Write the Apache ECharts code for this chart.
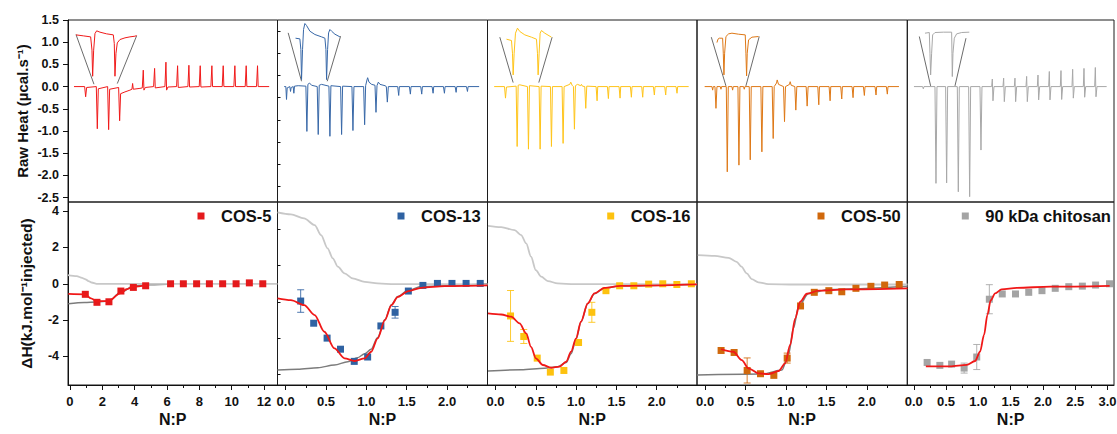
<!DOCTYPE html>
<html><head><meta charset="utf-8">
<script src="https://cdn.jsdelivr.net/npm/echarts@6/dist/echarts.min.js"></script>
<style>html,body{margin:0;padding:0;background:#fff}#c{width:1117px;height:434px}</style>
</head><body><div id="c"></div>
<script>
// ---------- TOP ROW: raw thermograms [time (a.u.), raw heat µcal/s] ----------
const heatCOS5 = [[222,0],[254,0],[257,-0.23],[260,-0.02],[289,0],[292,-0.95],[295,-0.05],[323,0],[326,-0.97],[329,-0.06],[356,-0.02],[359,-0.77],[362,-0.16],[375,-0.12],[390,-0.08],[396,-0.06],[398,0.07],[400,-0.06],[420,-0.04],[427,-0.03],[430,0.37],[432,-0.08],[436,-0.02],[461,0],[464,0.41],[466,-0.03],[495,0],[498,0.55],[500,-0.08],[504,-0.01],[530,0],[533,0.47],[535,-0.02],[564,0],[567,0.48],[569,-0.01],[598,0],[601,0.47],[603,-0.01],[633,0],[636,0.47],[638,0],[667,0],[670,0.47],[672,0],[702,0],[705,0.47],[707,0],[736,0],[739,0.47],[741,0],[770,0],[773,0.47],[775,0],[808,0]];
const heatCOS13 = [[28,0],[33,0],[35,-0.29],[37,-0.03],[45,0],[47,-0.11],[49,-0.02],[55,0],[57,-0.15],[59,0.01],[70,0.02],[93,0.01],[96,-1.01],[99,0.05],[104,0.08],[110,0.03],[127,0],[130,-1.08],[133,0.03],[140,0.05],[162,0.01],[165,-1.12],[168,0.02],[197,0],[200,-1.08],[203,0.01],[231,0],[234,-0.99],[237,0],[266,0],[269,-0.86],[272,0.02],[276,0.15],[278,0.2],[282,0.1],[290,0.05],[300,0.03],[303,-0.58],[306,0.02],[310,0.1],[315,0.05],[330,0.02],[334,0],[337,-0.35],[340,0],[368,0],[371,-0.2],[373,0],[403,0],[406,-0.17],[408,0],[437,0],[440,-0.17],[442,0],[471,0],[474,-0.15],[476,0],[505,0],[508,-0.15],[510,0],[540,0],[543,-0.13],[545,0],[574,0],[577,-0.11],[579,0],[612,0]];
const heatCOS16 = [[28,0],[59,0],[62,-0.26],[65,-0.01],[94,0.01],[97,-1.35],[100,0.03],[105,0.04],[128,0],[131,-1.41],[134,0.02],[163,0],[166,-1.41],[169,0.01],[197,0],[200,-1.35],[203,0],[232,0],[235,-1.28],[238,0],[255,0.05],[258,0.1],[262,0.03],[266,0],[269,-0.96],[272,0.02],[278,0.05],[288,0.02],[290,0.05],[293,0.01],[300,0],[303,-0.49],[306,0.01],[334,0],[337,-0.32],[339,0],[368,0],[371,-0.27],[373,0],[403,0],[406,-0.26],[408,0],[437,0],[440,-0.24],[442,0],[471,0],[474,-0.24],[476,0],[506,0],[509,-0.19],[511,0],[540,0],[543,-0.19],[545,0],[574,0],[577,-0.15],[579,0],[612,0]];
const heatCOS50 = [[28,0],[50,0],[52,-0.08],[54,0],[59,0],[62,-0.49],[65,0],[75,0],[77,-0.06],[79,0],[93,0],[96,-1.92],[99,0],[110,0],[112,-0.08],[114,0],[128,0],[131,-1.77],[134,0],[145,0],[147,-0.06],[149,0],[162,0],[165,-1.65],[168,0],[197,0],[200,-1.47],[203,0],[231,0],[234,-1.17],[237,0],[244,0.08],[246,0.15],[250,0.05],[265,0],[268,-0.79],[271,0],[283,0.05],[285,0.11],[288,0.03],[299,0],[302,-0.53],[305,0],[333,0],[336,-0.44],[339,0],[368,0],[371,-0.41],[373,0],[402,0],[405,-0.32],[407,0],[437,0],[440,-0.28],[442,0],[471,0],[474,-0.25],[476,0],[505,0],[508,-0.2],[510,0],[540,0],[543,-0.19],[545,0],[574,0],[577,-0.17],[579,0],[612,0]];
const heatChit = [[42,0],[68,0],[70,-0.05],[72,0],[105,0],[108,-2.18],[111,0],[137,0],[140,-2.17],[143,0],[172,0],[175,-2.37],[178,0],[206,0],[209,-2.48],[212,0],[240,0],[243,-1.43],[246,0],[275,0],[277,0.17],[279,-0.32],[282,0],[309,0],[311,0.19],[313,-0.34],[316,0],[343,0],[345,0.19],[347,-0.34],[350,0],[378,0],[380,0.23],[382,-0.34],[385,0],[412,0],[414,0.26],[416,-0.30],[419,0],[446,0],[448,0.34],[450,-0.30],[453,0],[481,0],[483,0.36],[485,-0.29],[488,0],[516,0],[518,0.39],[520,-0.26],[523,0],[550,0],[552,0.41],[554,-0.24],[557,0],[584,0],[586,0.43],[588,-0.23],[591,0],[620,0]];

// magnified insets of the first injections
const insetCOS5 = [[228,1.165],[250,1.143],[272,1.12],[276,0.82],[278,0.233],[281,0.82],[285,1.195],[290,1.256],[300,1.226],[320,1.188],[340,1.165],[343,0.97],[345,0.233],[348,0.75],[352,0.985],[360,1.06],[375,1.098],[390,1.12],[405,1.135],[410,1.15]];
const insetCOS13 = [[62,1.09],[75,1.075],[78,0.835],[80,0.158],[83,0.835],[86,1.286],[90,1.421],[95,1.376],[105,1.248],[120,1.173],[140,1.12],[150,1.09],[153,0.835],[155,0.158],[158,0.835],[161,1.21],[165,1.286],[170,1.248],[180,1.18],[195,1.12]];
const insetCOS16 = [[65,1.068],[80,1.038],[83,0.752],[85,0.263],[88,0.752],[92,1.203],[98,1.316],[105,1.241],[120,1.165],[140,1.113],[155,1.068],[158,0.752],[160,0.263],[163,0.752],[166,1.203],[170,1.263],[180,1.203],[200,1.113]];
const insetCOS50 = [[65,0.992],[68,1.068],[72,1.09],[82,1.09],[84,0.752],[86,0.263],[88,0.752],[92,1.128],[100,1.188],[110,1.203],[130,1.18],[150,1.165],[152,0.752],[154,0.241],[156,0.752],[160,1.053],[170,1.113],[190,1.128]];
const insetChit = [[75,1.203],[88,1.218],[90,0.752],[92,0.263],[95,0.752],[98,1.165],[105,1.218],[130,1.226],[155,1.226],[156,0.752],[157,0.226],[159,0.752],[163,1.09],[170,1.188],[185,1.218],[208,1.226]];
const linkCOS5 = [[[228,1.173],[282,0.053]],[[410,1.143],[352,0.068]]];
const linkCOS13 = [[[40,1.21],[80,0.12]],[[197,1.135],[157,0.12]]];
const linkCOS16 = [[[45,1.113],[85,0.09]],[[202,1.113],[162,0.09]]];
const linkCOS50 = [[[48,1.113],[92,0.015]],[[192,1.128],[152,0.015]]];
const linkChit = [[[58,1.128],[92,0.015]],[[198,1.09],[165,0.015]]];

// ---------- BOTTOM ROW: integrated heats ----------
const names = ['COS-5','COS-13','COS-16','COS-50','90 kDa chitosan'];
const npCOS5 = [0.95,1.67,2.41,3.15,3.92,4.68,6.22,7.01,7.83,8.62,9.44,10.27,11.09,11.92];
const dhCOS5 = [-0.58,-1.02,-0.99,-0.40,-0.20,-0.11,0,0,0,0,0,0,0.05,0];
const npCOS13 = [0.187,0.348,0.514,0.68,0.85,1.016,1.18,1.356,1.52,1.70,1.88,2.06,2.235,2.41];
const dhCOS13 = [-0.95,-2.17,-2.99,-3.60,-4.27,-4.03,-2.32,-1.57,-0.40,-0.09,0.02,0.02,0.02,0.02];
const npCOS16 = [0.186,0.35,0.517,0.68,0.848,1.03,1.195,1.37,1.54,1.716,1.90,2.075,2.25,2.43];
const dhCOS16 = [-1.77,-2.90,-4.09,-4.86,-4.77,-3.23,-1.57,-0.38,-0.11,-0.11,-0.02,0,-0.04,0];
const npCOS50 = [0.198,0.359,0.52,0.685,0.85,1.015,1.18,1.35,1.53,1.69,1.865,2.05,2.22,2.40];
const dhCOS50 = [-3.67,-3.78,-4.77,-4.95,-5.04,-4.09,-1.22,-0.47,-0.38,-0.44,-0.25,-0.14,-0.07,-0.04];
const npChit = [0.207,0.404,0.586,0.78,0.975,1.17,1.37,1.575,1.78,1.985,2.19,2.40,2.61,2.815,3.03];
const dhChit = [-4.33,-4.49,-4.42,-4.64,-4.03,-0.85,-0.56,-0.56,-0.47,-0.38,-0.25,-0.16,-0.13,-0.07,0];
// error bars [N:P, ΔH, sd]
const errCOS13 = [[0.187,-0.95,0.62],[1.356,-1.57,0.32]];
const errCOS16 = [[0.186,-1.77,1.40],[0.35,-2.90,0.385],[1.195,-1.57,0.55]];
const errCOS50 = [[0.52,-4.77,0.69],[1.015,-4.09,0.275]];
const errChit = [[0.78,-4.64,0.275],[0.975,-4.03,0.69],[1.17,-0.85,0.80]];
// fitted curves (red) and site components (light / dark grey)
const fitCOS5 = [[-0.1,-0.56],[0.93,-0.58],[1.3,-0.8],[1.65,-0.95],[2.41,-0.95],[3.09,-0.53],[3.5,-0.3],[3.92,-0.16],[4.74,-0.07]];
const siteACOS5 = [[-0.12,0.48],[0.42,0.42],[0.75,0.32],[0.93,0.26],[1.15,0.15],[1.34,0.07],[1.65,0],[12.83,0]];
const siteBCOS5 = [[-0.1,-1.1],[0.9,-1.03],[1.65,-1.0],[2.4,-0.95],[3.1,-0.5],[3.9,-0.14],[4.7,-0.05],[6.0,-0.02]];
const fitCOS13 = [[-0.1,-0.80],[0.066,-0.90],[0.23,-1.17],[0.36,-1.72],[0.48,-2.64],[0.605,-3.55],[0.73,-4.10],[0.855,-4.25],[0.98,-4.10],[1.06,-3.74],[1.14,-3.0],[1.23,-2.0],[1.31,-1.17],[1.39,-0.72],[1.52,-0.40],[1.68,-0.22],[1.97,-0.13],[2.5,-0.09]];
const siteACOS13 = [[-0.1,3.93],[0.066,3.82],[0.23,3.60],[0.36,3.23],[0.44,2.68],[0.52,1.95],[0.585,1.40],[0.647,0.94],[0.73,0.57],[0.83,0.30],[0.98,0.11],[1.14,0.02],[1.35,-0.02],[2.5,-0.03]];
const siteBCOS13 = [[-0.1,-4.75],[0.15,-4.71],[0.40,-4.62],[0.605,-4.47],[0.77,-4.29],[0.89,-4.07],[0.98,-3.85],[1.06,-3.6],[1.14,-2.95],[1.23,-1.97],[1.31,-1.15],[1.39,-0.70],[1.52,-0.36],[1.68,-0.15],[2.5,0.0]];
const fitCOS16 = [[-0.094,-1.63],[0.07,-1.69],[0.194,-1.81],[0.298,-2.18],[0.38,-2.73],[0.44,-3.47],[0.50,-4.10],[0.587,-4.47],[0.69,-4.62],[0.794,-4.56],[0.876,-4.29],[0.937,-3.74],[0.999,-3.0],[1.06,-2.09],[1.144,-1.08],[1.227,-0.53],[1.35,-0.22],[1.556,-0.11],[2.5,-0.03]];
const siteACOS16 = [[-0.094,3.19],[0.07,3.12],[0.236,2.95],[0.318,2.68],[0.38,2.22],[0.44,1.49],[0.50,0.75],[0.566,0.39],[0.65,0.15],[0.77,0.02],[0.98,-0.02],[2.5,-0.03]];
const siteBCOS16 = [[-0.094,-4.80],[0.318,-4.73],[0.608,-4.65],[0.77,-4.56],[0.876,-4.33],[0.937,-3.85],[0.999,-3.05],[1.06,-2.1],[1.144,-1.1],[1.227,-0.55],[1.35,-0.24],[1.556,-0.12],[2.5,-0.02]];
const fitCOS50 = [[0.198,-3.59],[0.35,-3.74],[0.454,-4.20],[0.536,-4.65],[0.66,-4.93],[0.784,-4.97],[0.908,-4.80],[0.99,-4.38],[1.052,-3.37],[1.114,-1.90],[1.176,-0.99],[1.258,-0.55],[1.403,-0.38],[1.73,-0.31],[2.503,-0.25]];
const siteACOS50 = [[-0.09,1.58],[0.12,1.54],[0.29,1.43],[0.39,1.21],[0.45,0.94],[0.515,0.57],[0.577,0.26],[0.66,0.08],[0.78,-0.02],[1.114,-0.04],[2.503,-0.04]];
const siteBCOS50 = [[-0.1,-5.02],[0.70,-4.97],[0.95,-4.75],[1.03,-3.92],[1.093,-2.45],[1.155,-1.26],[1.279,-0.53],[1.527,-0.31],[2.503,-0.13]];
const fitChit = [[0.187,-4.55],[0.56,-4.55],[0.82,-4.46],[0.949,-4.25],[1.026,-3.74],[1.088,-2.82],[1.14,-1.71],[1.192,-0.90],[1.26,-0.53],[1.36,-0.31],[1.597,-0.22],[2.115,-0.16],[3.033,-0.11]];

// tick values
const heatTicks = [1.5,1.0,0.5,0,-0.5,-1.0,-1.5,-2.0,-2.5];
const heatMinor = [1.25,0.75,0.25,-0.25,-0.75,-1.25,-1.75,-2.25];
const dhTicks = [4,2,0,-2,-4];
const dhMinor = [3,1,-1,-3,-5];
const npTicks5 = [0,2,4,6,8,10,12];
const npMinor5 = [1,3,5,7,9,11];
const npTicks25 = [0,0.5,1.0,1.5,2.0];
const npMinor25 = [0.25,0.75,1.25,1.75,2.25];
const npTicks3 = [0,0.5,1.0,1.5,2.0,2.5,3.0];
const npMinor3 = [0.25,0.75,1.25,1.75,2.25,2.75];

// ---------- build chart ----------
const FONT = '"Liberation Sans", Arial, Helvetica, sans-serif';
const INK = '#111';
const colors = ['#e41a1c','#2f62a2','#fdc20f','#d0680c','#a4a4a4'];
const traceColors = ['#f01a1a','#3868a8','#ffc41a','#de7816','#a8a8a8'];
const fitColor = '#f01818';
const lightGrey = '#c8c8c8', darkGrey = '#7c7c7c';
const cols = [68, 277.5, 487.5, 697, 907.3, 1114];
const timeRange = [[204,833],[8,637],[8,637],[5,637],[22,642]];
const npRange = [[-0.12,12.83],[-0.1,2.5],[-0.1,2.5],[-0.1,2.5],[-0.1,3.1]];
const npTicks = [npTicks5,npTicks25,npTicks25,npTicks25,npTicks3];
const npMinor = [npMinor5,npMinor25,npMinor25,npMinor25,npMinor3];
const heats = [heatCOS5,heatCOS13,heatCOS16,heatCOS50,heatChit];
const insets = [insetCOS5,insetCOS13,insetCOS16,insetCOS50,insetChit];
const links = [linkCOS5,linkCOS13,linkCOS16,linkCOS50,linkChit];
const npX = [npCOS5,npCOS13,npCOS16,npCOS50,npChit];
const dhY = [dhCOS5,dhCOS13,dhCOS16,dhCOS50,dhChit];
const errs = [[],errCOS13,errCOS16,errCOS50,errChit];
const fits = [fitCOS5,fitCOS13,fitCOS16,fitCOS50,fitChit];
const siteA = [siteACOS5,siteACOS13,siteACOS16,siteACOS50,null];
const siteB = [siteBCOS5,siteBCOS13,siteBCOS16,siteBCOS50,null];
const legLeft = [197.5,397.5,607.2,817.5,961.8];

const grid = [], xAxis = [], yAxis = [], series = [], legend = [];
const lbl = {color:INK, fontFamily:FONT, fontWeight:'bold'};
for (let r=0;r<2;r++) for (let i=0;i<5;i++) {
  grid.push({left:cols[i], width:cols[i+1]-cols[i], top: r===0?20:202, height: r===0?182:183,
    show:true, borderColor:'#1c1c1c', borderWidth:1, containLabel:false, outerBoundsMode:'none'});
}
// top x axes 0-4
for (let i=0;i<5;i++) xAxis.push({type:'value', gridIndex:i, min:timeRange[i][0], max:timeRange[i][1], show:false});
// bottom x axes 5-9 (major + labels)
for (let i=0;i<5;i++) xAxis.push({type:'value', gridIndex:5+i, min:npRange[i][0], max:npRange[i][1], position:'bottom',
  axisLine:{show:true,onZero:false,lineStyle:{color:INK,width:1}},
  axisTick:{show:true,inside:false,length:5,customValues:npTicks[i],lineStyle:{color:INK,width:1}},
  axisLabel:{show:true,customValues:npTicks[i],margin:10,fontSize:13,...lbl,
    formatter: i===0 ? (v=>String(Math.round(v))) : (v=>Number(v).toFixed(1))},
  splitLine:{show:false},
  name:'N:P', nameLocation:'middle', nameGap:26, nameTextStyle:{fontSize:16,...lbl}});
// bottom minor x axes 10-14
for (let i=0;i<5;i++) xAxis.push({type:'value', gridIndex:5+i, min:npRange[i][0], max:npRange[i][1], position:'bottom',
  axisLine:{show:false,onZero:false}, axisLabel:{show:false}, splitLine:{show:false},
  axisTick:{show:true,inside:false,length:3,customValues:npMinor[i],lineStyle:{color:INK,width:1}}});
// y axes
for (let i=0;i<5;i++) {
  if (i===0) yAxis.push({type:'value', gridIndex:0, min:-2.6, max:1.5,
    axisLine:{show:true,onZero:false,lineStyle:{color:INK}},
    axisTick:{show:true,length:5,customValues:heatTicks,lineStyle:{color:INK}},
    axisLabel:{show:true,customValues:heatTicks,margin:9,fontSize:12.5,...lbl,formatter:v=>Number(v).toFixed(1)},
    splitLine:{show:false},
    name:'Raw Heat (µcal.s⁻¹)', nameLocation:'middle', nameRotate:90, nameGap:38, nameTextStyle:{fontSize:15,...lbl}});
  else yAxis.push({type:'value', gridIndex:i, min:-2.6, max:1.5, show:false});
}
for (let i=0;i<5;i++) {
  if (i===0) yAxis.push({type:'value', gridIndex:5, min:-5.57, max:4.5,
    axisLine:{show:true,onZero:false,lineStyle:{color:INK}},
    axisTick:{show:true,length:5,customValues:dhTicks,lineStyle:{color:INK}},
    axisLabel:{show:true,customValues:dhTicks,margin:9,fontSize:12.5,...lbl,formatter:v=>String(Math.round(v))},
    splitLine:{show:false},
    name:'ΔH(kJ.mol⁻¹injected)', nameLocation:'middle', nameRotate:90, nameGap:34, nameTextStyle:{fontSize:15.5,...lbl}});
  else yAxis.push({type:'value', gridIndex:5+i, min:-5.57, max:4.5, show:false});
}
yAxis.push({type:'value', gridIndex:0, min:-2.6, max:1.5, axisLine:{show:false,onZero:false}, axisLabel:{show:false}, splitLine:{show:false},
  axisTick:{show:true,length:3,customValues:heatMinor,lineStyle:{color:INK}}});
yAxis.push({type:'value', gridIndex:5, min:-5.57, max:4.5, axisLine:{show:false,onZero:false}, axisLabel:{show:false}, splitLine:{show:false},
  axisTick:{show:true,length:3,customValues:dhMinor,lineStyle:{color:INK}}});

function errRender(color){
  return function(params, api){
    const x = api.value(0), y = api.value(1), sd = api.value(2);
    const p1 = api.coord([x, y - sd]), p2 = api.coord([x, y + sd]);
    const w = 3.5, st = {stroke: color, lineWidth: 1, opacity: 0.85};
    return {type:'group', children:[
      {type:'line', shape:{x1:p1[0],y1:p1[1],x2:p2[0],y2:p2[1]}, style:st},
      {type:'line', shape:{x1:p1[0]-w,y1:p1[1],x2:p1[0]+w,y2:p1[1]}, style:st},
      {type:'line', shape:{x1:p2[0]-w,y1:p2[1],x2:p2[0]+w,y2:p2[1]}, style:st}]};
  };
}

for (let i=0;i<5;i++) {
  // top row
  series.push({type:'line', name:'raw '+names[i], xAxisIndex:i, yAxisIndex:i, data:heats[i], symbol:'none', silent:true,
    lineStyle:{color:traceColors[i], width:1}, z:2});
  series.push({type:'line', name:'inset '+names[i], xAxisIndex:i, yAxisIndex:i, data:insets[i], symbol:'none', silent:true,
    lineStyle:{color:traceColors[i], width:1}, z:2});
  series.push({type:'lines', coordinateSystem:'cartesian2d', xAxisIndex:i, yAxisIndex:i, silent:true,
    data:links[i].map(c=>({coords:c})), lineStyle:{color:'#5a5a5a', width:0.9, opacity:1}, z:1});
  // bottom row
  const xi = 5+i, yi = 5+i;
  if (siteB[i]) series.push({type:'line', name:'siteB'+i, xAxisIndex:xi, yAxisIndex:yi, data:siteB[i], symbol:'none', silent:true,
    smooth:0.3, smoothMonotone:'x', lineStyle:{color:darkGrey, width:1.5}, z:2});
  if (siteA[i]) series.push({type:'line', name:'siteA'+i, xAxisIndex:xi, yAxisIndex:yi, data:siteA[i], symbol:'none', silent:true,
    smooth:0.3, smoothMonotone:'x', lineStyle:{color:lightGrey, width:1.8}, z:2});
  series.push({type:'scatter', name:names[i], xAxisIndex:xi, yAxisIndex:yi, symbol:'rect', symbolSize:7,
    data:npX[i].map((x,k)=>[x, dhY[i][k]]), itemStyle:{color:colors[i], opacity:1}, z:3});
  if (errs[i].length) series.push({type:'custom', name:'err'+i, xAxisIndex:xi, yAxisIndex:yi, data:errs[i],
    renderItem:errRender(colors[i]), silent:true, z:3});
  series.push({type:'line', name:'fit'+i, xAxisIndex:xi, yAxisIndex:yi, data:fits[i], symbol:'none', silent:true,
    smooth:0.3, smoothMonotone:'x', lineStyle:{color:fitColor, width:1.8}, z:4});
  legend.push({data:[names[i]], left:legLeft[i], top:207, padding:0, icon:'rect', itemWidth:7, itemHeight:7,
    selectedMode:false, textStyle:{fontSize:16.5, lineHeight:18, ...lbl, padding:[0,0,0,11.5]}});
}

const chart = echarts.init(document.getElementById('c'), null, {renderer:'svg'});
chart.setOption({animation:false, backgroundColor:'#fff', grid, xAxis, yAxis, series, legend});
</script></body></html>
